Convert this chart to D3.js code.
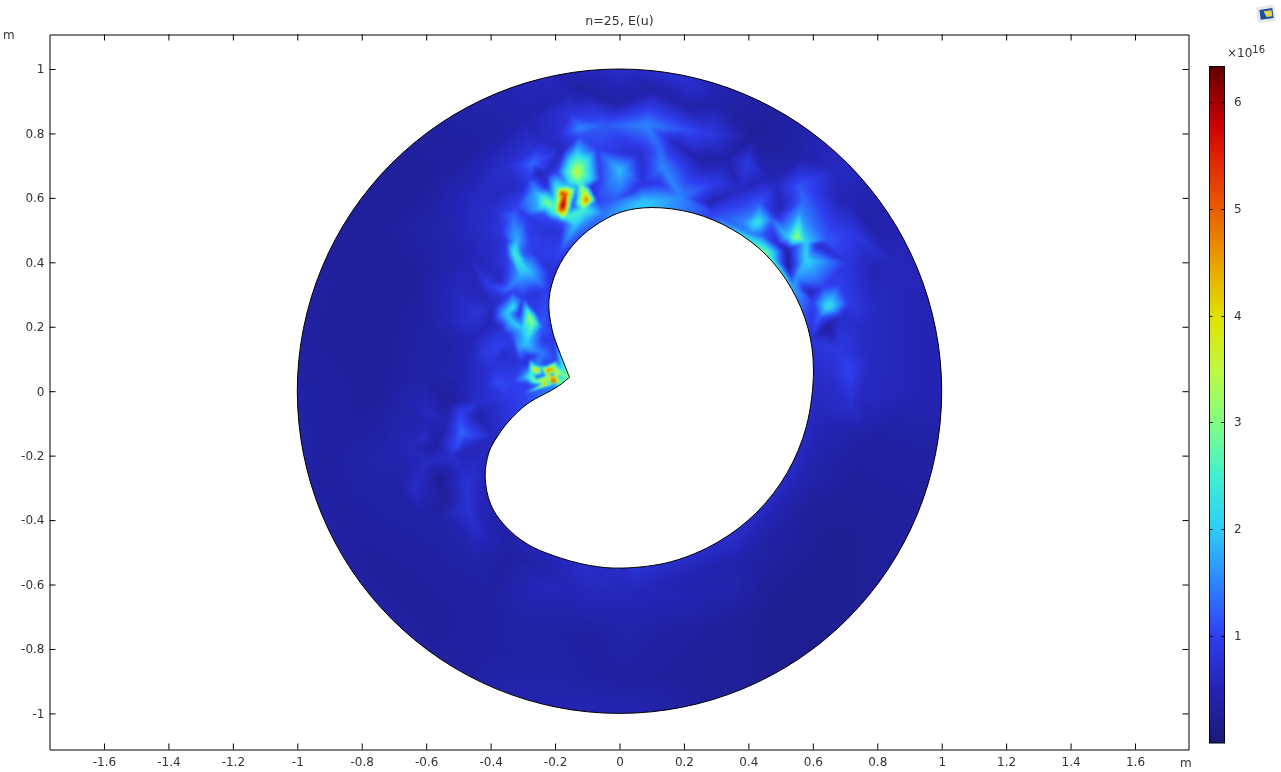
<!DOCTYPE html>
<html>
<head>
<meta charset="utf-8">
<script src="https://cdn.jsdelivr.net/npm/d3@7"></script>
<style>
html, body { margin: 0; padding: 0; background: #fff; overflow: hidden; }
#plot { position: absolute; left: 0; top: 0; }
svg { position: absolute; left: 0; top: 0; font-family: "DejaVu Sans", sans-serif; font-size: 12px; fill: #333; }
</style>
</head>
<body>
<canvas id="plot" width="1281" height="772"></canvas>
<svg id="chart" width="1281" height="772"></svg>
<script>
var titleText = "n=25, E(u)";
var xTicks = [-1.6, -1.4, -1.2, -1, -0.8, -0.6, -0.4, -0.2, 0, 0.2, 0.4, 0.6, 0.8, 1, 1.2, 1.4, 1.6];
var yTicks = [-1, -0.8, -0.6, -0.4, -0.2, 0, 0.2, 0.4, 0.6, 0.8, 1];
var barTicks = [1, 2, 3, 4, 5, 6];

// colour table, u in units of 1e16
var uStops = [0, 0.5, 1, 1.5, 2, 2.5, 3, 3.5, 4, 4.5, 5, 5.5, 5.8, 6.33];
var uColors = ["#1a1a78", "#2424b4", "#2f3ef0", "#2c86ff", "#2dcdf8", "#40f0d0", "#80ff80", "#c0f840", "#e0e000", "#e8a000", "#e85c00", "#e02000", "#c80000", "#600000"];

// hole outline, starts and ends at the cusp
var holeX = [-0.155, -0.185, -0.209, -0.219, -0.194, -0.144, -0.082, 0.002, 0.098, 0.228, 0.35, 0.455, 0.534, 0.585, 0.602, 0.58, 0.521, 0.427, 0.304, 0.161, 0.008, -0.092, -0.206, -0.287, -0.355, -0.399, -0.417, -0.405, -0.38, -0.346, -0.287, -0.194, -0.155];
var holeY = [0.043, 0.119, 0.19, 0.283, 0.376, 0.454, 0.51, 0.555, 0.57, 0.553, 0.502, 0.423, 0.318, 0.196, 0.066, -0.109, -0.252, -0.375, -0.469, -0.529, -0.549, -0.541, -0.51, -0.474, -0.418, -0.353, -0.266, -0.189, -0.142, -0.096, -0.04, 0.013, 0.043];

// mesh nodes: [x, y, u]
var rimNodes = [
  [1.05, 0, 0.5], [1.014, 0.272, 0.5], [0.909, 0.525, 0.5], [0.742, 0.742, 0.6], [0.525, 0.909, 0.35], [0.272, 1.014, 0.6],
  [0, 1.05, 0.8], [-0.272, 1.014, 0.6], [-0.525, 0.909, 0.4], [-0.742, 0.742, 0.3], [-0.909, 0.525, 0.3], [-1.014, 0.272, 0.4],
  [-1.05, 0, 0.4], [-1.014, -0.272, 0.4], [-0.909, -0.525, 0.4], [-0.742, -0.742, 0.4], [-0.525, -0.909, 0.35], [-0.272, -1.014, 0.5],
  [0, -1.05, 0.55], [0.272, -1.014, 0.3], [0.525, -0.909, 0.2], [0.742, -0.742, 0.25], [0.909, -0.525, 0.35], [1.014, -0.272, 0.35]
];
var outerNodes = [
  [-0.9, 0, 0.35], [-0.9, 0.2, 0.3], [-0.85, 0.35, 0.3], [-0.75, 0.5, 0.3], [-0.6, 0.65, 0.3], [-0.45, 0.75, 0.35], [-0.3, 0.85, 0.45], [-0.15, 0.93, 0.5],
  [-0.9, -0.2, 0.35], [-0.85, -0.38, 0.35], [-0.75, -0.55, 0.3], [-0.6, -0.7, 0.3], [-0.42, -0.8, 0.35], [-0.22, -0.88, 0.4], [0, -0.9, 0.35], [0.2, -0.88, 0.3],
  [0.4, -0.82, 0.25], [0.6, -0.7, 0.2], [0.75, -0.55, 0.25], [0.85, -0.38, 0.3], [0.93, -0.2, 0.35], [0.93, 0, 0.5], [0.92, 0.2, 0.5], [0.85, 0.4, 0.55], [0.72, 0.58, 0.5],
  [-0.75, 0, 0.3], [-0.72, 0.2, 0.3], [-0.65, 0.35, 0.3], [-0.55, 0.5, 0.45], [-0.45, 0.6, 0.6], [-0.35, 0.7, 0.7], [-0.72, -0.2, 0.45], [-0.62, -0.38, 0.4],
  [-0.55, -0.55, 0.35], [-0.4, -0.65, 0.35], [-0.62, 0.05, 0.4], [-0.58, 0.2, 0.4], [-0.5, 0.3, 0.6], [-0.47, 0.42, 0.5], [-0.45, 0.3, 0.55], [-0.45, 0.17, 0.55],
  [-0.45, 0.08, 0.6], [-0.5, 0.05, 0.45], [-0.53, 0.15, 0.4], [-0.39, 0.08, 0.8], [-0.42, 0.01, 0.7], [-0.45, 0.5, 0.6]
];
var leftNodes = [
  [-0.49, -0.13, 1.3], [-0.505, -0.17, 1.1], [-0.495, -0.07, 1], [-0.535, -0.035, 0.3], [-0.535, -0.09, 0.5], [-0.57, -0.17, 0.35], [-0.556, -0.275, 0.25], [-0.535, -0.33, 0.3],
  [-0.475, -0.3, 0.8], [-0.485, -0.19, 0.5], [-0.433, -0.213, 0.6], [-0.44, -0.08, 0.45], [-0.39, -0.14, 0.6], [-0.34, -0.02, 0.9], [-0.38, 0.025, 1.1], [-0.433, -0.03, 0.7],
  [-0.485, -0.245, 0.65], [-0.526, -0.2, 0.7], [-0.59, -0.07, 0.6], [-0.61, -0.14, 0.7], [-0.64, -0.17, 0.55], [-0.64, -0.31, 0.65], [-0.69, -0.275, 0.4], [-0.556, -0.4, 0.4],
  [-0.455, -0.41, 0.7], [-0.495, -0.44, 0.45], [-0.43, -0.38, 0.5], [-0.38, -0.47, 0.45], [-0.33, -0.5, 0.35], [-0.6, -0.1, 0.5], [-0.6, -0.22, 0.6], [-0.3, -0.01, 1], [-0.33, 0.03, 1],
  [-0.42, 0.12, 0.9], [-0.38, 0.14, 1], [-0.44, 0.24, 0.8], [-0.41, 0.33, 0.9], [-0.47, -0.35, 0.8]
];
var ridgeNodes = [
  [-0.278, 0.23, 3.2], [-0.268, 0.215, 3], [-0.33, 0.26, 2.2], [-0.35, 0.24, 2], [-0.31, 0.24, 0.8], [-0.33, 0.21, 2], [-0.3, 0.195, 2], [-0.256, 0.24, 1], [-0.24, 0.2, 1.2],
  [-0.287, 0.153, 2], [-0.31, 0.137, 1.7], [-0.36, 0.18, 0.8], [-0.33, 0.18, 1.2], [-0.33, 0.143, 0.9], [-0.268, 0.128, 1.6], [-0.237, 0.16, 0.9], [-0.24, 0.118, 1.4],
  [-0.278, 0.106, 0.8], [-0.206, 0.15, 0.9], [-0.195, 0.097, 1], [-0.31, 0.087, 0.8], [-0.36, 0.118, 0.7], [-0.4, 0.22, 0.5], [-0.43, 0.31, 0.55], [-0.33, 0.31, 1],
  [-0.31, 0.355, 1.7], [-0.287, 0.376, 2], [-0.256, 0.305, 0.8], [-0.225, 0.315, 1], [-0.35, 0.315, 1.3], [-0.37, 0.345, 0.6], [-0.21, 0.367, 0.7],
  [-0.39, 0.27, 0.6], [-0.37, 0.2, 0.7], [-0.4, 0.38, 0.6], [-0.35, 0.42, 0.9], [-0.3, 0.43, 1.2], [-0.355, 0.46, 0.8], [-0.37, 0.28, 0.7], [-0.3, 0.29, 0.9]
];
var cuspNodes = [
  [-0.222, 0.066, 5], [-0.256, 0.066, 4.5], [-0.206, 0.029, 5.5], [-0.216, 0.041, 4], [-0.185, 0.044, 1.8], [-0.163, 0.044, 3], [-0.272, 0.057, 2.5], [-0.237, 0.05, 1],
  [-0.24, 0.035, 3.8], [-0.256, 0.044, 0.9], [-0.293, 0.044, 1.8], [-0.195, 0.06, 3.5], [-0.21, 0.05, 1], [-0.222, 0.029, 2], [-0.185, 0.029, 3], [-0.2, 0.02, 1.5],
  [-0.247, 0.02, 1.5], [-0.278, 0.02, 1], [-0.256, 0.081, 1.5], [-0.23, 0.081, 1], [-0.287, 0.072, 1],
  [-0.27, 0.075, 3], [-0.245, 0.075, 2], [-0.21, 0.068, 4.8], [-0.2, 0.045, 4.2], [-0.23, 0.022, 4.5], [-0.175, 0.035, 2.5], [-0.29, 0.06, 1.4], [-0.26, 0.03, 3]
];
var hotNodes = [
  [-0.133, 0.681, 3.6], [-0.175, 0.578, 6.3], [-0.169, 0.609, 5.4], [-0.179, 0.615, 5.3], [-0.185, 0.562, 5], [-0.154, 0.618, 3.8], [-0.194, 0.631, 2.4], [-0.2, 0.587, 2.3],
  [-0.2, 0.556, 2.5], [-0.163, 0.541, 2.5], [-0.145, 0.578, 1], [-0.138, 0.603, 1.2], [-0.101, 0.593, 5], [-0.113, 0.615, 3.5], [-0.1, 0.618, 3.2], [-0.123, 0.646, 2.6],
  [-0.113, 0.562, 2.5], [-0.107, 0.531, 1.7], [-0.09, 0.634, 0.8], [-0.06, 0.655, 1], [-0.133, 0.634, 1.6], [-0.16, 0.64, 1.8], [-0.07, 0.593, 1], [-0.04, 0.634, 1.3],
  [-0.008, 0.677, 1.7], [0, 0.634, 1.5], [-0.02, 0.593, 1.2], [-0.05, 0.553, 1.4], [0.073, 0.587, 2], [0.033, 0.615, 1], [0.125, 0.646, 0.9], [0.073, 0.646, 0.8],
  [-0.194, 0.68, 1], [-0.268, 0.708, 1.3], [-0.225, 0.677, 0.7], [-0.253, 0.68, 0.5], [-0.225, 0.634, 0.8], [-0.225, 0.587, 3], [-0.256, 0.615, 1.8], [-0.278, 0.665, 1],
  [-0.3, 0.634, 0.7], [-0.32, 0.572, 1], [-0.256, 0.562, 1.7], [-0.237, 0.553, 1.2], [-0.37, 0.615, 0.6], [-0.39, 0.562, 0.7], [-0.33, 0.541, 1.3], [-0.287, 0.541, 0.9],
  [-0.216, 0.531, 1], [-0.175, 0.522, 1.1], [-0.138, 0.516, 2], [-0.185, 0.49, 0.8], [-0.237, 0.51, 0.8], [-0.32, 0.47, 1.8], [-0.325, 0.43, 2.5], [-0.278, 0.46, 1],
  [-0.225, 0.46, 0.9], [-0.256, 0.423, 0.9], [-0.37, 0.5, 0.8], [-0.38, 0.447, 0.7], [-0.19, 0.423, 1], [-0.133, 0.74, 2], [-0.123, 0.79, 1.1], [-0.07, 0.75, 1],
  [-0.175, 0.75, 0.6], [-0.123, 0.817, 1.5], [-0.04, 0.826, 1.2], [-0.154, 0.864, 0.8], [-0.123, 0.935, 0.35], [-0.008, 0.894, 0.4], [-0.194, 0.79, 0.7], [-0.278, 0.74, 0.8], [-0.247, 0.78, 0.6]
];
var topNodes = [
  [0.085, 0.826, 1.5], [0, 0.687, 1.9], [0.08, 0.584, 2], [0.135, 0.696, 1.5], [0.166, 0.774, 0.6], [0.064, 0.733, 0.7], [0.25, 0.717, 0.4], [0.28, 0.8, 0.9], [0.209, 0.81, 1.1],
  [0.333, 0.723, 0.4], [0.395, 0.708, 0.9], [0.302, 0.646, 0.9], [0.28, 0.584, 0.5], [0.415, 0.79, 0.3], [0.104, 0.935, 0.4], [0.22, 0.956, 0.7], [0.312, 0.894, 0.4],
  [0.209, 0.88, 0.45], [0.457, 0.665, 0.5], [0.56, 0.727, 0.4], [0.488, 0.646, 0.6], [0.613, 0.75, 0.5], [0.665, 0.687, 0.6], [0.436, 0.584, 1.2], [0.188, 0.603, 1.5], [0.125, 0.758, 1.3]
];
var rightNodes = [
  [0.55, 0.478, 3.2], [0.43, 0.525, 2.3], [0.385, 0.522, 1.5], [0.473, 0.531, 1.3], [0.488, 0.553, 0.6], [0.451, 0.428, 3], [0.52, 0.438, 0.4], [0.523, 0.385, 0.3], [0.488, 0.46, 0.7],
  [0.58, 0.407, 2.1], [0.613, 0.454, 0.7], [0.643, 0.47, 1.2], [0.58, 0.463, 2], [0.523, 0.478, 2], [0.56, 0.562, 1.5], [0.57, 0.593, 1.3], [0.498, 0.569, 0.5], [0.477, 0.49, 0.9],
  [0.55, 0.355, 1.6], [0.54, 0.323, 1.7], [0.59, 0.305, 0.5], [0.648, 0.262, 2.3], [0.6, 0.277, 1], [0.715, 0.273, 0.9], [0.632, 0.323, 1], [0.643, 0.2, 0.3], [0.622, 0.23, 1.2],
  [0.684, 0.23, 0.7], [0.59, 0.16, 0.8], [0.725, 0.49, 0.9], [0.767, 0.53, 0.4], [0.715, 0.398, 0.8], [0.684, 0.593, 0.5], [0.787, 0.376, 0.5], [0.374, 0.624, 0.6], [0.467, 0.655, 0.5],
  [0.56, 0.634, 1.2], [0.29, 0.553, 1], [0.684, 0.127, 0.9], [0.746, -0.03, 0.6], [0.65, 0.05, 0.7], [0.78, 0.1, 0.6],
  [0.442, 0.485, 1.2], [0.473, 0.463, 1], [0.405, 0.49, 1.5], [0.715, 0.066, 1], [0.8, 0.25, 0.6], [0.72, -0.05, 0.7], [0.62, -0.07, 0.55], [0.68, 0.33, 1], [0.75, 0.2, 0.65]
];
var bottomNodes = [
  [0.66, -0.1, 0.5], [0.78, -0.15, 0.35], [0.7, -0.3, 0.3], [0.58, -0.27, 0.45], [0.65, -0.2, 0.4], [0.52, -0.42, 0.35], [0.4, -0.52, 0.4], [0.25, -0.62, 0.45], [0.6, -0.35, 0.3],
  [0.5, -0.5, 0.35], [0.35, -0.62, 0.45], [0.35, -0.72, 0.3], [0.2, -0.65, 0.5], [0.15, -0.75, 0.35], [0.05, -0.62, 0.55], [0.03, -0.72, 0.45], [-0.1, -0.63, 0.55], [-0.1, -0.75, 0.35],
  [-0.25, -0.6, 0.55], [-0.3, -0.72, 0.4], [-0.45, -0.53, 0.4], [0.65, -0.5, 0.2], [0.5, -0.65, 0.2]
];

var nodes = [].concat(rimNodes, outerNodes, leftNodes, ridgeNodes, cuspNodes, hotNodes, topNodes, rightNodes, bottomNodes);

var frame = { left: 49.5, right: 1188.5, top: 34.5, bottom: 749.5 };
var bar = { left: 1209.5, right: 1224.5, top: 66.5, bottom: 743 };

var x = d3.scaleLinear().domain([-1, 1]).range([297.3, 941.7]);
var y = d3.scaleLinear().domain([-1, 1]).range([713.4, 69]);
var barY = d3.scaleLinear().domain([0, 6.33]).range([bar.bottom, bar.top]);
var color = d3.scaleLinear().domain(uStops).range(uColors).clamp(true);

var lut = d3.range(1024).map(function (i) {
    return d3.rgb(color(i / 1023 * 6.33));
});

// fill the triangles of the mesh with linear shading, as the solver plot does
var off = document.createElement("canvas");
off.width = 1281;
off.height = 772;
var offCtx = off.getContext("2d");
var img = offCtx.createImageData(1281, 772);

var delaunay = d3.Delaunay.from(nodes, function (d) { return x(d[0]); }, function (d) { return y(d[1]); });
var tri = delaunay.triangles;
for (var t = 0; t < tri.length; t += 3) {
    var a = nodes[tri[t]], b = nodes[tri[t + 1]], c = nodes[tri[t + 2]];
    var ax = x(a[0]), ay = y(a[1]), bx = x(b[0]), by = y(b[1]), cx = x(c[0]), cy = y(c[1]);
    var det = (by - cy) * (ax - cx) + (cx - bx) * (ay - cy);
    if (det === 0) continue;
    var x0 = Math.max(0, Math.floor(Math.min(ax, bx, cx))), x1 = Math.min(1280, Math.ceil(Math.max(ax, bx, cx)));
    var y0 = Math.max(0, Math.floor(Math.min(ay, by, cy))), y1 = Math.min(771, Math.ceil(Math.max(ay, by, cy)));
    for (var py = y0; py <= y1; py++) {
        for (var px = x0; px <= x1; px++) {
            var w1 = ((by - cy) * (px + 0.5 - cx) + (cx - bx) * (py + 0.5 - cy)) / det;
            var w2 = ((cy - ay) * (px + 0.5 - cx) + (ax - cx) * (py + 0.5 - cy)) / det;
            var w3 = 1 - w1 - w2;
            if (w1 < -0.001 || w2 < -0.001 || w3 < -0.001) continue;
            var u = w1 * a[2] + w2 * b[2] + w3 * c[2];
            var k = Math.round(u / 6.33 * 1023);
            var col = lut[Math.max(0, Math.min(1023, k))];
            var p = (py * 1281 + px) * 4;
            img.data[p] = col.r;
            img.data[p + 1] = col.g;
            img.data[p + 2] = col.b;
            img.data[p + 3] = 255;
        }
    }
}
offCtx.putImageData(img, 0, 0);

var holeLine = d3.line()
    .x(function (d) { return x(holeX[d]); })
    .y(function (d) { return y(holeY[d]); })
    .curve(d3.curveCatmullRom.alpha(0.5));
var holePath = holeLine(d3.range(holeX.length));

var circle = d3.path();
circle.arc(x(0), y(0), x(1) - x(0), 0, 2 * Math.PI);
circle.closePath();
var circlePath = circle.toString();

var ctx = document.getElementById("plot").getContext("2d");
ctx.save();
ctx.clip(new Path2D(circlePath + holePath + "Z"), "evenodd");
ctx.filter = "blur(1px)";
ctx.drawImage(off, 0, 0);
ctx.restore();

var svg = d3.select("#chart");

svg.append("path").attr("d", circlePath).attr("fill", "none").attr("stroke", "#000").attr("stroke-width", 1);
svg.append("path").attr("d", holePath + "Z").attr("fill", "none").attr("stroke", "#000").attr("stroke-width", 1);

// axes, ticks point inwards on all four sides
var fullX = d3.scaleLinear().domain([x.invert(frame.left), x.invert(frame.right)]).range([frame.left, frame.right]);
var fullY = d3.scaleLinear().domain([y.invert(frame.bottom), y.invert(frame.top)]).range([frame.bottom, frame.top]);
var fmt = function (d) { return String(d); };

function styleAxis(g) {
    g.attr("font-family", null).attr("font-size", null);
    g.selectAll("line").attr("stroke", "#000");
    g.select(".domain").attr("stroke", "#000");
    g.selectAll("text").attr("fill", "#333");
}

svg.append("g").attr("transform", "translate(0," + frame.bottom + ")")
    .call(d3.axisBottom(fullX).tickValues(xTicks).tickFormat(fmt).tickSizeInner(-6).tickSizeOuter(0).tickPadding(8))
    .call(styleAxis);
svg.append("g").attr("transform", "translate(0," + frame.top + ")")
    .call(d3.axisTop(fullX).tickValues(xTicks).tickFormat("").tickSizeInner(-6).tickSizeOuter(0))
    .call(styleAxis);
svg.append("g").attr("transform", "translate(" + frame.left + ",0)")
    .call(d3.axisLeft(fullY).tickValues(yTicks).tickFormat(fmt).tickSizeInner(-6).tickSizeOuter(0).tickPadding(5))
    .call(styleAxis);
svg.append("g").attr("transform", "translate(" + frame.right + ",0)")
    .call(d3.axisRight(fullY).tickValues(yTicks).tickFormat("").tickSizeInner(-6).tickSizeOuter(0))
    .call(styleAxis);

svg.append("text").attr("x", 619.5).attr("y", 25).attr("text-anchor", "middle").attr("font-size", "12.6px").text(titleText);
svg.append("text").attr("x", 3).attr("y", 39).text("m");
svg.append("text").attr("x", 1180).attr("y", 767).text("m");

// colour bar
var grad = svg.append("defs").append("linearGradient")
    .attr("id", "barGrad").attr("x1", 0).attr("y1", 1).attr("x2", 0).attr("y2", 0);
grad.selectAll("stop").data(uStops).enter().append("stop")
    .attr("offset", function (d) { return d / 6.33; })
    .attr("stop-color", function (d, i) { return uColors[i]; });

svg.append("rect")
    .attr("x", bar.left).attr("y", bar.top)
    .attr("width", bar.right - bar.left).attr("height", bar.bottom - bar.top)
    .attr("fill", "url(#barGrad)").attr("stroke", "#000");

var barTick = svg.append("g").selectAll("g").data(barTicks).enter().append("g")
    .attr("transform", function (d) { return "translate(0," + Math.round(barY(d)) + ".5)"; });
barTick.append("line").attr("x1", bar.left).attr("x2", bar.left + 3).attr("stroke", "#000");
barTick.append("line").attr("x1", bar.right - 3).attr("x2", bar.right).attr("stroke", "#000");
barTick.append("text").attr("x", 1234).attr("dy", "0.32em").text(function (d) { return d; });

var power = svg.append("text").attr("x", 1227).attr("y", 57);
power.append("tspan").text("×10");
power.append("tspan").attr("dy", -4).attr("font-size", "10px").text("16");

// small program badge in the corner
var badge = svg.append("g").attr("transform", "translate(1266,14) rotate(-8)");
badge.append("rect").attr("x", -9).attr("y", -8).attr("width", 18).attr("height", 16).attr("rx", 2).attr("fill", "#e8e8ec");
badge.append("rect").attr("x", -6).attr("y", -5).attr("width", 13).attr("height", 10).attr("fill", "#1c4f9c");
badge.append("path").attr("d", "M-2,-3L6,-3L6,3L0,3Z").attr("fill", "#e6d64a");
</script>
</body>
</html>
